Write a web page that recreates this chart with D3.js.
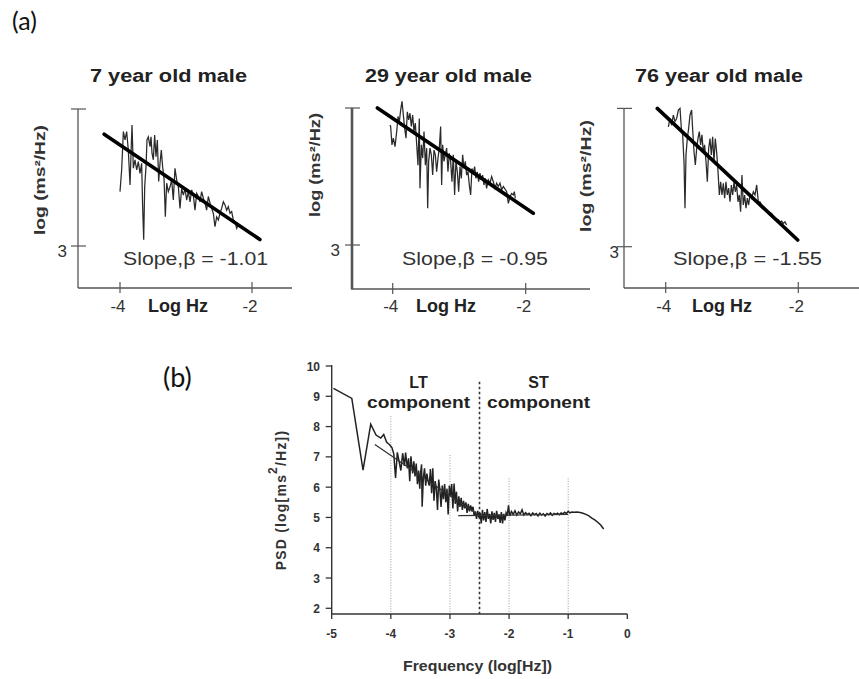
<!DOCTYPE html>
<html>
<head>
<meta charset="utf-8">
<script src="https://cdn.jsdelivr.net/npm/d3@7"></script>
<style>
  body { margin: 0; background: #fff; }
  svg { display: block; }
  text { font-family: "Liberation Sans", Arial, sans-serif; }
</style>
</head>
<body>
<svg id="fig" width="859" height="679"></svg>
<script>
// ---------- Panel (a): three individual spectra ----------
const panelTitles = ["7 year old male", "29 year old male", "76 year old male"];
const slopes = [-1.01, -0.95, -1.55];
const yLowTick = 3;
const yTopTick = [6.1, 5.9, 6.45];          // unlabelled upper tick of each panel
const xTickValsA = [-4, -2];
const fitStart = [[-4.24, 5.53], [-4.23, 5.90], [-4.127, 6.45]];
const fitEndX = [-1.88, -1.886, -2.009];

const trace7 = [[-4.000,4.23],[-3.975,4.72],[-3.949,5.59],[-3.924,5.40],[-3.899,5.59],[-3.874,5.17],[-3.848,4.38],[-3.833,5.10],[-3.818,5.74],[-3.798,4.76],[-3.773,4.95],[-3.747,4.72],[-3.722,4.91],[-3.697,4.64],[-3.672,4.87],[-3.657,3.89],[-3.641,3.14],[-3.626,4.34],[-3.606,4.79],[-3.591,5.40],[-3.571,5.47],[-3.545,5.25],[-3.530,5.47],[-3.515,5.10],[-3.495,4.95],[-3.475,5.51],[-3.455,5.02],[-3.434,5.40],[-3.414,4.46],[-3.394,4.87],[-3.374,5.17],[-3.354,4.79],[-3.333,4.53],[-3.313,3.66],[-3.293,4.42],[-3.268,4.23],[-3.242,4.34],[-3.217,4.49],[-3.192,4.04],[-3.167,4.76],[-3.141,4.49],[-3.116,4.34],[-3.091,3.85],[-3.066,4.30],[-3.040,4.15],[-3.015,4.30],[-2.990,4.04],[-2.965,4.23],[-2.939,4.00],[-2.914,4.27],[-2.889,4.15],[-2.864,3.81],[-2.838,4.19],[-2.813,4.12],[-2.788,4.00],[-2.763,4.23],[-2.737,4.08],[-2.712,3.97],[-2.687,3.81],[-2.662,4.12],[-2.636,3.97],[-2.611,3.85],[-2.586,3.74],[-2.561,3.44],[-2.535,3.66],[-2.510,3.59],[-2.485,3.74],[-2.460,3.85],[-2.434,4.00],[-2.409,3.93],[-2.384,3.81],[-2.359,3.89],[-2.333,3.74],[-2.308,3.78],[-2.283,3.59],[-2.258,3.55],[-2.232,3.40],[-2.207,3.48]];

const trace29 = [[-4.041,5.54],[-4.031,5.51],[-4.011,5.12],[-3.990,5.26],[-3.965,5.08],[-3.940,5.40],[-3.920,5.72],[-3.900,5.61],[-3.880,5.86],[-3.860,6.04],[-3.840,5.75],[-3.820,5.47],[-3.800,5.26],[-3.780,5.82],[-3.760,5.65],[-3.740,5.79],[-3.720,5.51],[-3.700,5.75],[-3.680,5.40],[-3.660,5.58],[-3.640,5.15],[-3.620,4.69],[-3.600,5.68],[-3.590,4.20],[-3.569,5.12],[-3.549,4.84],[-3.529,5.40],[-3.509,4.69],[-3.489,5.05],[-3.474,3.78],[-3.459,4.77],[-3.439,5.05],[-3.419,4.91],[-3.399,4.48],[-3.379,5.01],[-3.359,4.91],[-3.339,4.55],[-3.319,4.84],[-3.299,5.05],[-3.279,5.51],[-3.264,4.27],[-3.249,5.12],[-3.229,4.77],[-3.209,4.91],[-3.189,5.05],[-3.169,4.55],[-3.149,4.94],[-3.129,4.77],[-3.109,4.34],[-3.089,4.91],[-3.069,4.06],[-3.049,4.77],[-3.028,4.55],[-3.008,4.13],[-2.988,4.66],[-2.968,4.41],[-2.948,4.91],[-2.928,4.62],[-2.908,4.77],[-2.888,4.48],[-2.868,4.55],[-2.848,4.27],[-2.828,4.06],[-2.808,4.62],[-2.788,4.52],[-2.768,4.66],[-2.748,4.41],[-2.728,4.55],[-2.708,4.34],[-2.688,4.52],[-2.668,4.38],[-2.648,4.48],[-2.628,4.27],[-2.608,4.41],[-2.588,4.20],[-2.562,4.38],[-2.537,4.31],[-2.512,4.45],[-2.487,4.34],[-2.462,4.20],[-2.437,4.31],[-2.412,4.24],[-2.387,4.31],[-2.362,4.17],[-2.336,4.24],[-2.286,4.13],[-2.261,3.88],[-2.236,4.02],[-2.211,4.09],[-2.186,4.06],[-2.171,4.13],[-2.156,3.99]];

const trace76 = [[-3.960,5.99],[-3.935,6.20],[-3.910,6.03],[-3.885,6.28],[-3.860,6.12],[-3.835,6.20],[-3.809,6.41],[-3.784,6.45],[-3.764,5.95],[-3.744,5.79],[-3.724,5.12],[-3.709,3.96],[-3.694,5.29],[-3.674,5.70],[-3.654,5.95],[-3.634,6.28],[-3.609,6.41],[-3.594,5.95],[-3.573,5.37],[-3.553,5.04],[-3.533,5.45],[-3.513,5.70],[-3.493,5.87],[-3.473,5.54],[-3.453,5.79],[-3.433,5.37],[-3.413,5.54],[-3.392,5.12],[-3.372,4.62],[-3.352,5.45],[-3.332,5.70],[-3.312,5.29],[-3.292,5.74],[-3.272,5.12],[-3.252,5.70],[-3.232,5.37],[-3.212,4.91],[-3.191,4.29],[-3.171,4.62],[-3.151,4.29],[-3.131,4.58],[-3.111,4.21],[-3.091,4.62],[-3.071,4.29],[-3.051,4.46],[-3.030,4.12],[-3.010,4.54],[-2.990,4.29],[-2.970,4.62],[-2.950,4.37],[-2.930,4.54],[-2.910,4.12],[-2.890,4.29],[-2.870,3.87],[-2.850,4.79],[-2.830,4.04],[-2.809,4.29],[-2.789,3.96],[-2.769,4.21],[-2.749,4.04],[-2.729,4.29],[-2.704,4.21],[-2.678,4.37],[-2.653,4.29],[-2.628,4.54],[-2.603,4.12],[-2.578,4.12],[-2.553,4.04],[-2.528,4.00],[-2.503,3.96],[-2.477,3.92],[-2.452,3.87],[-2.427,3.79],[-2.402,3.83],[-2.377,3.75],[-2.352,3.71],[-2.327,3.69],[-2.302,3.67],[-2.277,3.62],[-2.252,3.64],[-2.226,3.58],[-2.201,3.62],[-2.176,3.54]];

const tracesA = [trace7, trace29, trace76];

// ---------- Panel (b): group spectrum with LT / ST components ----------
const psdTicksY = [2, 3, 4, 5, 6, 7, 8, 9, 10];
const psdTicksX = [-5, -4, -3, -2, -1, 0];
const psdTrace = [[-4.97,9.26],[-4.66,8.93],[-4.47,6.56],[-4.34,8.08],[-4.25,7.72],[-4.17,7.62],[-4.12,7.74],[-4.07,7.48],[-4.02,7.40],[-3.98,7.30],[-3.95,7.10],[-3.92,6.30],[-3.89,7.15],[-3.86,6.85],[-3.83,6.55],[-3.80,7.12],[-3.77,6.70],[-3.75,7.14],[-3.72,6.62],[-3.70,6.95],[-3.68,6.20],[-3.66,7.02],[-3.63,6.45],[-3.61,6.85],[-3.59,6.35],[-3.57,6.78],[-3.55,6.10],[-3.53,6.55],[-3.51,5.95],[-3.50,6.40],[-3.48,6.75],[-3.47,5.35],[-3.45,6.30],[-3.43,6.62],[-3.41,6.05],[-3.39,6.45],[-3.37,6.20],[-3.35,6.05],[-3.33,6.60],[-3.31,5.80],[-3.29,6.62],[-3.27,5.55],[-3.25,6.20],[-3.23,5.95],[-3.21,5.25],[-3.19,6.25],[-3.17,5.90],[-3.15,5.35],[-3.13,6.05],[-3.11,5.60],[-3.09,6.10],[-3.07,5.50],[-3.05,5.95],[-3.03,5.10],[-3.01,6.05],[-2.99,5.70],[-2.97,6.10],[-2.95,5.30],[-2.93,6.12],[-2.91,5.45],[-2.89,5.85],[-2.87,5.20],[-2.85,5.70],[-2.83,5.35],[-2.81,5.65],[-2.79,5.25],[-2.77,5.55],[-2.75,5.30],[-2.73,5.50],[-2.71,5.15],[-2.69,5.45],[-2.67,5.20],[-2.65,5.40],[-2.63,5.25],[-2.61,5.35],[-2.59,5.05],[-2.57,5.20],[-2.55,4.95],[-2.53,5.22],[-2.51,5.00],[-2.49,5.15],[-2.47,4.80],[-2.45,5.25],[-2.43,4.90],[-2.41,5.18],[-2.39,4.85],[-2.37,5.28],[-2.35,4.95],[-2.33,5.12],[-2.31,4.80],[-2.29,5.20],[-2.27,4.92],[-2.25,5.15],[-2.23,4.85],[-2.21,5.22],[-2.19,4.95],[-2.17,5.10],[-2.15,4.82],[-2.13,5.18],[-2.11,4.80],[-2.09,5.12],[-2.07,4.90],[-2.05,5.15],[-2.03,5.05],[-2.01,5.40],[-1.99,5.05],[-1.96,5.20],[-1.93,5.10],[-1.90,5.22],[-1.87,5.08],[-1.84,5.18],[-1.81,5.12],[-1.78,5.25],[-1.75,5.08],[-1.72,5.16],[-1.69,5.10],[-1.66,5.14],[-1.63,5.06],[-1.60,5.15],[-1.57,5.09],[-1.54,5.13],[-1.51,5.05],[-1.48,5.14],[-1.45,5.08],[-1.42,5.12],[-1.39,5.05],[-1.36,5.13],[-1.33,5.09],[-1.30,5.15],[-1.27,5.07],[-1.24,5.13],[-1.21,5.10],[-1.18,5.14],[-1.15,5.09],[-1.12,5.15],[-1.09,5.12],[-1.06,5.17],[-1.03,5.13],[-1.00,5.20],[-0.97,5.15],[-0.94,5.18],[-0.90,5.17],[-0.85,5.18],[-0.80,5.16],[-0.75,5.14],[-0.70,5.10],[-0.65,5.05],[-0.60,4.98],[-0.55,4.92],[-0.50,4.84],[-0.45,4.75],[-0.40,4.62]];
const ltFit = [[-4.27, 7.41], [-2.52, 5.08]];
const stFit = [[-2.86, 5.06], [-1.00, 5.10]];
const guideLines = [[-4, 8.35], [-3, 7.06], [-2, 6.29], [-1, 6.29]];   // [x, top]
const splitLine = [-2.5, 9.48];
const componentLabels = [["LT", "component"], ["ST", "component"]];

// ---------- drawing ----------
const svg = d3.select("#fig");
const INK = "#222";

function stretch(sel, len) {
  sel.attr("textLength", len).attr("lengthAdjust", "spacingAndGlyphs");
}

svg.append("text").attr("x", 12).attr("y", 30)
  .attr("font-size", 25).attr("fill", "#111")
  .style("font-family", "Lato, 'Open Sans', sans-serif")
  .text("(a)");

svg.append("text").attr("x", 163).attr("y", 387)
  .attr("font-size", 27).attr("fill", "#111")
  .style("font-family", "Lato, 'Open Sans', sans-serif")
  .text("(b)");

// layout of the three small panels
const layoutA = [
  {ax: 78,  axisY: 288, axisEnd: 292, xr: [120, 252],     yr: [246, 109],     title: [90, 247],  slope: [123, 268], ylab: [45, 180, 110], labR: 67,  logHz: 178, axW: 1.3},
  {ax: 352, axisY: 289, axisEnd: 590, xr: [392.7, 525.7], yr: [245, 108],     title: [365, 532], slope: [402, 548], ylab: [320, 165, 104], labR: 340, logHz: 446, axW: 2.6},
  {ax: 624, axisY: 288, axisEnd: 859, xr: [665.7, 798.3], yr: [246.7, 108.4], title: [635, 803], slope: [673, 822], ylab: [591, 176, 112], labR: 619, logHz: 722, axW: 1.3}
];

layoutA.forEach((L, i) => {
  const g = svg.append("g");
  const x = d3.scaleLinear().domain(xTickValsA).range(L.xr);
  const y = d3.scaleLinear().domain([yLowTick, yTopTick[i]]).range(L.yr);
  const yTicks = [yLowTick, yTopTick[i]];

  // axes
  g.append("line").attr("x1", L.ax).attr("x2", L.ax)
    .attr("y1", y(yTopTick[i])).attr("y2", L.axisY)
    .attr("stroke", "#555").attr("stroke-width", L.axW);
  g.append("line").attr("x1", L.ax - (L.axW > 2 ? 1 : 0)).attr("x2", L.axisEnd)
    .attr("y1", L.axisY).attr("y2", L.axisY)
    .attr("stroke", "#555").attr("stroke-width", 1.3);
  g.selectAll(".yt").data(yTicks).join("line")
    .attr("x1", L.ax - 7).attr("x2", L.ax + 8)
    .attr("y1", d => y(d)).attr("y2", d => y(d))
    .attr("stroke", "#555").attr("stroke-width", 1.2);
  g.selectAll(".xt").data(xTickValsA).join("line")
    .attr("x1", d => x(d)).attr("x2", d => x(d))
    .attr("y1", L.axisY - 6).attr("y2", L.axisY + 5)
    .attr("stroke", "#555").attr("stroke-width", 1.2);

  // tick labels
  g.append("text").attr("x", L.labR).attr("y", y(yLowTick) + 11)
    .attr("text-anchor", "end").attr("font-size", 17).attr("fill", "#333")
    .text(yLowTick);
  g.selectAll(".xl").data(xTickValsA).join("text")
    .attr("x", d => x(d) - 2).attr("y", 312)
    .attr("text-anchor", "middle").attr("font-size", 17).attr("fill", "#333")
    .text(d => d);
  g.append("text").attr("x", L.logHz).attr("y", 312)
    .attr("text-anchor", "middle").attr("font-size", 18).attr("font-weight", "bold").attr("fill", INK)
    .text("Log Hz");

  // title
  g.append("text").attr("x", L.title[0]).attr("y", 82)
    .attr("font-size", 18).attr("font-weight", "bold").attr("fill", INK)
    .text(panelTitles[i]).call(stretch, L.title[1] - L.title[0]);

  // y label
  g.append("text")
    .attr("transform", `translate(${L.ylab[0]},${L.ylab[1]}) rotate(-90)`)
    .attr("text-anchor", "middle").attr("font-size", 15).attr("font-weight", "bold").attr("fill", "#333")
    .text("log (ms²/Hz)").call(stretch, L.ylab[2]);

  // spectrum trace
  const line = d3.line().x(d => x(d[0])).y(d => y(d[1]));
  g.append("path").datum(tracesA[i]).attr("d", line)
    .attr("fill", "none").attr("stroke", "#2a2a2a").attr("stroke-width", 1.25)
    .attr("stroke-linejoin", "miter");

  // regression line built from its slope
  const [x0, y0] = fitStart[i];
  const x1 = fitEndX[i];
  const fit = [[x0, y0], [x1, y0 + slopes[i] * (x1 - x0)]];
  g.append("path").datum(fit).attr("d", line)
    .attr("fill", "none").attr("stroke", "#000").attr("stroke-width", 3.6)
    .attr("stroke-linecap", "round");

  // slope annotation
  g.append("text").attr("x", L.slope[0]).attr("y", 265)
    .attr("font-size", 18).attr("fill", "#333")
    .text(`Slope,β = ${slopes[i].toFixed(2)}`).call(stretch, L.slope[1] - L.slope[0]);
});

// ---------- panel (b) ----------
const xb = d3.scaleLinear().domain([-5, 0]).range([331.7, 627.3]);
const yb = d3.scaleLinear().domain([2, 10]).range([608.3, 366]);
const gb = svg.append("g");
const axisYb = 614;

// guide lines
gb.selectAll(".guide").data(guideLines).join("line")
  .attr("x1", d => xb(d[0])).attr("x2", d => xb(d[0]))
  .attr("y1", d => yb(d[1])).attr("y2", axisYb)
  .attr("stroke", "#999").attr("stroke-width", 1).attr("stroke-dasharray", "1,1.6");
gb.append("line")
  .attr("x1", xb(splitLine[0])).attr("x2", xb(splitLine[0]))
  .attr("y1", yb(splitLine[1])).attr("y2", axisYb)
  .attr("stroke", "#333").attr("stroke-width", 1.6).attr("stroke-dasharray", "2.5,2.5");

// axes
gb.append("line").attr("x1", xb(-5)).attr("x2", xb(-5)).attr("y1", yb(10) - 1).attr("y2", axisYb)
  .attr("stroke", "#333").attr("stroke-width", 1.4);
gb.append("line").attr("x1", xb(-5)).attr("x2", xb(0)).attr("y1", axisYb).attr("y2", axisYb)
  .attr("stroke", "#333").attr("stroke-width", 1.4);
gb.selectAll(".ybt").data(psdTicksY).join("line")
  .attr("x1", xb(-5) - 6).attr("x2", xb(-5))
  .attr("y1", d => yb(d)).attr("y2", d => yb(d))
  .attr("stroke", "#333").attr("stroke-width", 1.3);
gb.selectAll(".xbt").data(psdTicksX).join("line")
  .attr("x1", d => xb(d)).attr("x2", d => xb(d))
  .attr("y1", axisYb).attr("y2", axisYb + 5)
  .attr("stroke", "#333").attr("stroke-width", 1.3);
gb.selectAll(".ybl").data(psdTicksY).join("text")
  .attr("x", 320).attr("y", d => yb(d) + 4.5)
  .attr("text-anchor", "end").attr("font-size", 12).attr("font-weight", "bold").attr("fill", "#333")
  .text(d => d);
gb.selectAll(".xbl").data(psdTicksX).join("text")
  .attr("x", d => xb(d)).attr("y", 638)
  .attr("text-anchor", "middle").attr("font-size", 12).attr("font-weight", "bold").attr("fill", "#333")
  .text(d => d);

// axis titles
gb.append("text").attr("x", 403).attr("y", 671)
  .attr("font-size", 14).attr("font-weight", "bold").attr("fill", "#333")
  .text("Frequency (log[Hz])").call(stretch, 149);
const yt = gb.append("text")
  .attr("transform", "translate(286,500) rotate(-90)")
  .attr("text-anchor", "middle").attr("font-size", 14).attr("font-weight", "bold").attr("fill", "#333")
  .attr("letter-spacing", 1.2);
yt.append("tspan").text("PSD (log[ms");
yt.append("tspan").attr("dy", -9).attr("font-size", 12).text("2");
yt.append("tspan").attr("dy", 9).text("/Hz])");

// component labels
const compPos = [[367, 470], [487, 590]];
componentLabels.forEach((lab, k) => {
  const [a, b] = compPos[k];
  gb.append("text").attr("x", (a + b) / 2).attr("y", 388)
    .attr("text-anchor", "middle").attr("font-size", 16).attr("font-weight", "bold").attr("fill", INK)
    .text(lab[0]);
  gb.append("text").attr("x", a).attr("y", 408)
    .attr("font-size", 16).attr("font-weight", "bold").attr("fill", INK)
    .text(lab[1]).call(stretch, b - a);
});

// spectrum and fitted components
const lineB = d3.line().x(d => xb(d[0])).y(d => yb(d[1]));
gb.append("path").datum(psdTrace).attr("d", lineB)
  .attr("fill", "none").attr("stroke", "#222").attr("stroke-width", 1.5);
gb.append("path").datum(ltFit).attr("d", lineB)
  .attr("fill", "none").attr("stroke", "#333").attr("stroke-width", 1.3);
gb.append("path").datum(stFit).attr("d", lineB)
  .attr("fill", "none").attr("stroke", "#333").attr("stroke-width", 1.3);
</script>
</body>
</html>
